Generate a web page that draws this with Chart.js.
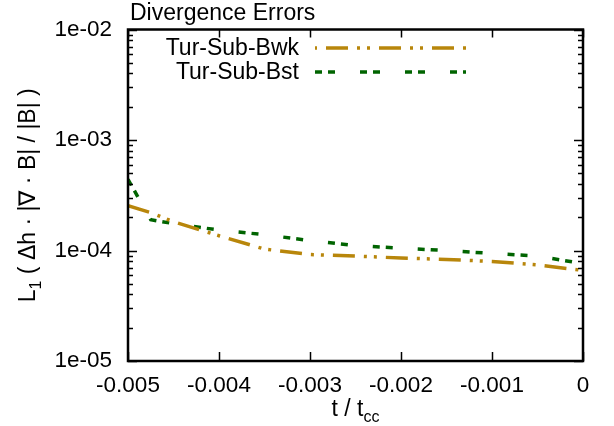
<!DOCTYPE html>
<html>
<head>
<meta charset="utf-8">
<script src="https://cdn.jsdelivr.net/npm/chart.js@4/dist/chart.umd.min.js"></script>
<style>
  body { margin: 0; background: #fff; }
</style>
</head>
<body>
<canvas id="chart" width="614" height="426"></canvas>
<script>
const FONT = '"Liberation Sans", Arial, sans-serif';

const tValues = [-0.005, -0.00475, -0.0045, -0.004, -0.0035, -0.003, -0.0025, -0.002, -0.0015, -0.001, -0.0005, 0];
const bwkValues = [2.54e-4, 2.2e-4, 1.82e-4, 1.36e-4, 1.03e-4, 9.2e-5, 8.9e-5, 8.55e-5, 8.3e-5, 7.96e-5, 7.4e-5, 6.6e-5];
const bstValues = [4.4e-4, 1.9e-4, 1.75e-4, 1.53e-4, 1.39e-4, 1.23e-4, 1.11e-4, 1.05e-4, 1.0e-4, 9.4e-5, 8.9e-5, 7.6e-5];
const seriesNames = ['Tur-Sub-Bwk', 'Tur-Sub-Bst'];
const xTicks = [-0.005, -0.004, -0.003, -0.002, -0.001, 0];
const yDecades = [-5, -4, -3, -2];

const gold = '#b8860b';
const green = '#006400';
const goldDash = [22, 9, 3, 7, 3, 9];
const greenDash = [7, 6, 7, 25];

// draws text with one subscript chunk; parts = [[text, sub], ...]
function drawParts(ctx, parts, x, y) {
    let w = 0;
    parts.forEach(p => {
        ctx.font = (p[1] ? '16px ' : '23px ') + FONT;
        w += ctx.measureText(p[0]).width;
    });
    let cx = x - w / 2;
    parts.forEach(p => {
        ctx.font = (p[1] ? '16px ' : '23px ') + FONT;
        ctx.fillText(p[0], cx, p[1] ? y + 6 : y);
        cx += ctx.measureText(p[0]).width;
    });
}

const framePlugin = {
    id: 'frame',
    afterDatasetsDraw(chart) {
        const ctx = chart.ctx;
        const a = chart.chartArea;
        const xs = chart.scales.x;
        const ys = chart.scales.y;
        ctx.save();
        ctx.strokeStyle = '#000';
        ctx.lineWidth = 1.5;
        ctx.beginPath();
        // y ticks, left and right
        yDecades.forEach(e => {
            for (let k = 1; k <= 9; k++) {
                if (e === -2 && k > 1) break;
                const py = Math.round(ys.getPixelForValue(k * Math.pow(10, e))) + 0.5;
                const len = k === 1 ? 9 : 5;
                ctx.moveTo(a.left, py); ctx.lineTo(a.left + len, py);
                ctx.moveTo(a.right, py); ctx.lineTo(a.right - len, py);
            }
        });
        // x ticks, bottom and top
        xTicks.forEach(v => {
            const px = Math.round(xs.getPixelForValue(v)) + 0.5;
            ctx.moveTo(px, a.bottom); ctx.lineTo(px, a.bottom - 9);
            ctx.moveTo(px, a.top); ctx.lineTo(px, a.top + 8);
        });
        ctx.stroke();
        ctx.lineWidth = 2.5;
        ctx.strokeRect(a.left, a.top, a.right - a.left, a.bottom - a.top);

        // title
        ctx.fillStyle = '#000';
        ctx.textBaseline = 'alphabetic';
        ctx.textAlign = 'left';
        ctx.font = '23px ' + FONT;
        ctx.fillText('Divergence Errors', 130, 20);

        // legend
        const dashes = [goldDash, greenDash];
        const offsets = [42, 0];
        ctx.textAlign = 'right';
        ctx.textBaseline = 'middle';
        chart.data.datasets.forEach((ds, i) => {
            const ly = 48 + i * 24;
            ctx.fillStyle = '#000';
            ctx.fillText(ds.label, 299, ly + 1);
            ctx.strokeStyle = ds.borderColor;
            ctx.lineWidth = 3.5;
            ctx.setLineDash(dashes[i]);
            ctx.lineDashOffset = offsets[i];
            ctx.beginPath();
            ctx.moveTo(315, ly);
            ctx.lineTo(466, ly);
            ctx.stroke();
        });
        ctx.setLineDash([]);

        // axis titles
        ctx.fillStyle = '#000';
        ctx.textAlign = 'left';
        ctx.textBaseline = 'alphabetic';
        drawParts(ctx, [['t / t', false], ['cc', true]], (a.left + a.right) / 2, 416);
        ctx.translate(35, (a.top + a.bottom) / 2);
        ctx.rotate(-Math.PI / 2);
        drawParts(ctx, [['L', false], ['1', true], [' ( \u0394h \u00b7 |\u2207 \u00b7 B| / |B| )', false]], 0, 0);
        ctx.restore();
    }
};

new Chart(document.getElementById('chart'), {
    type: 'line',
    data: {
        datasets: [{
            label: seriesNames[0],
            data: tValues.map((t, i) => ({ x: t, y: bwkValues[i] })),
            borderColor: gold,
            borderWidth: 3.5,
            borderDash: goldDash,
            borderCapStyle: 'butt',
            pointRadius: 0,
            tension: 0,
            fill: false
        }, {
            label: seriesNames[1],
            data: tValues.map((t, i) => ({ x: t, y: bstValues[i] })),
            borderColor: green,
            borderWidth: 3.5,
            borderDash: greenDash,
            borderCapStyle: 'butt',
            pointRadius: 0,
            tension: 0,
            fill: false
        }]
    },
    options: {
        responsive: false,
        animation: false,
        layout: { padding: { left: 0, top: 28, right: 31, bottom: 0 } },
        plugins: {
            legend: { display: false },
            title: { display: false },
            tooltip: { enabled: false }
        },
        scales: {
            x: {
                type: 'linear',
                min: -0.005,
                max: 0,
                grid: { display: false, drawTicks: false },
                border: { display: false },
                ticks: {
                    stepSize: 0.001,
                    autoSkip: false,
                    maxRotation: 0,
                    padding: 11,
                    color: '#000',
                    font: { family: FONT, size: 22.5 },
                    callback: v => Math.abs(v) < 1e-9 ? '0' : v.toFixed(3)
                },
                afterFit: s => { s.height = 65; }
            },
            y: {
                type: 'logarithmic',
                min: 1e-5,
                max: 1e-2,
                grid: { display: false, drawTicks: false },
                border: { display: false },
                ticks: {
                    autoSkip: false,
                    padding: 16,
                    color: '#000',
                    font: { family: FONT, size: 22.5 },
                    callback: v => {
                        const e = Math.log10(v);
                        const r = Math.round(e);
                        return Math.abs(e - r) < 1e-6 ? '1e-0' + Math.abs(r) : '';
                    }
                },
                afterFit: s => { s.width = 128; }
            }
        }
    },
    plugins: [framePlugin]
});
</script>
</body>
</html>
